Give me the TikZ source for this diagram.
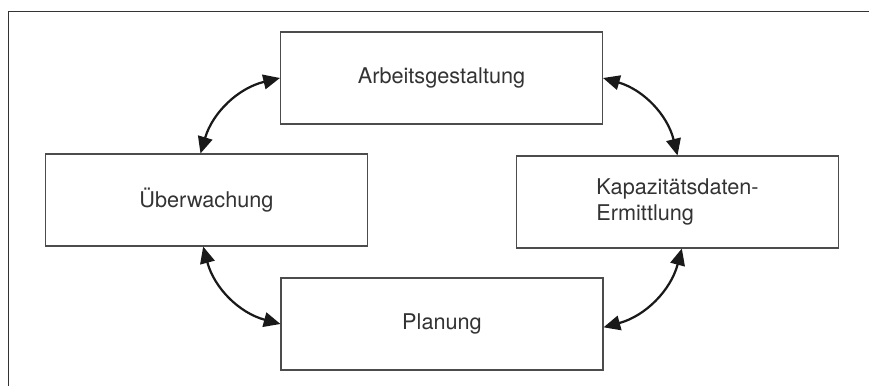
\documentclass[tikz,border=0pt]{standalone}
\usepackage{fontspec}
\setmainfont{TeX Gyre Heros}
\usepackage{tikz}
\usetikzlibrary{calc,arrows.meta}

\begin{document}
\begin{tikzpicture}[
    x=0.3mm, y=0.3mm,
    box/.style={rectangle, draw=black!70, line width=0.9pt, minimum width=96.6mm, minimum height=27.6mm, inner sep=0pt, align=left, text=black!80, font=\fontsize{18.5}{21.5}\selectfont},
    arrow/.style={{Triangle[length=5mm,width=4.4mm]}-{Triangle[length=5mm,width=4.4mm]}, line width=1.9pt, black!90}
]
    \useasboundingbox (0,0) rectangle (869,386);
    \draw[line width=1.6pt, black!80] (8.5,0) -- (8.5,374.5) -- (869,374.5);

    \node[box] (arb) at (441.5,308) {Arbeitsgestaltung};
    \node[box] (ueb) at (206.5,186) {Überwachung};
    \node[box] (kap) at (677.5,184) {Kapazitätsdaten-\\Ermittlung};
    \node[box] (plan) at (442,62) {Planung};

    \draw[arrow] ([xshift=-1.8mm]ueb.north) to[bend left=30] (arb.west);
    \draw[arrow] (arb.east) to[bend left=30] (kap.north);
    \draw[arrow] ([xshift=-1mm]ueb.south) to[bend right=30] (plan.west);
    \draw[arrow] ([yshift=-1mm]plan.east) to[bend right=30] ([xshift=1.3mm]kap.south);
\end{tikzpicture}
\end{document}
